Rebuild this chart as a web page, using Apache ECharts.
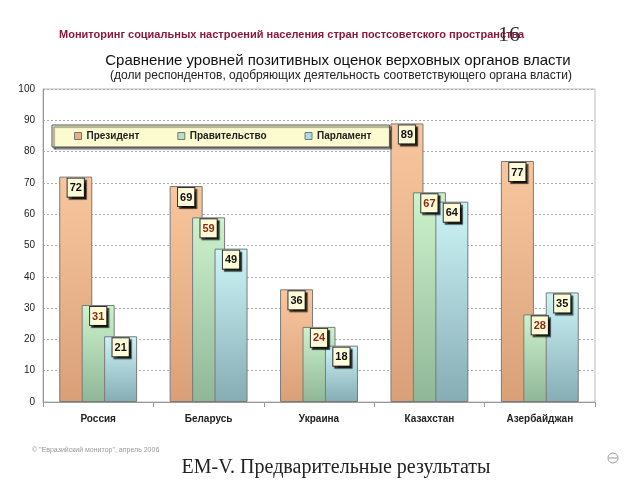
<!DOCTYPE html>
<html><head><meta charset="utf-8">
<script src="https://cdn.jsdelivr.net/npm/echarts@6/dist/echarts.min.js"></script>
<style>html,body{margin:0;padding:0;background:#fff}#c{width:640px;height:480px}</style>
</head><body><div id="c"></div>
<script>
const categories = ['Россия', 'Беларусь', 'Украина', 'Казахстан', 'Азербайджан'];
const seriesNames = ['Президент', 'Правительство', 'Парламент'];
const president = [72, 69, 36, 89, 77];
const government = [31, 59, 24, 67, 28];
const parliament = [21, 49, 18, 64, 35];
const yTicks = [0, 10, 20, 30, 40, 50, 60, 70, 80, 90, 100];

const grad = (a, b) => new echarts.graphic.LinearGradient(0, 0, 0, 1, [{offset: 0, color: a}, {offset: 1, color: b}]);
const fills = [grad('#f8c79e', '#d9a078'), grad('#cdf3cd', '#8fb697'), grad('#cdf5f7', '#86acb4')];
const iconColors = ['#e8b08a', '#b8e0c0', '#a8dce8'];
const labelColors = ['#111', '#8b2a10', '#111'];
const values = [president, government, parliament];

const chart = echarts.init(document.getElementById('c'), null, {renderer: 'canvas'});
chart.setOption({
  animation: false,
  title: [
    {text: 'Мониторинг социальных настроений населения стран постсоветского пространства', left: 54, top: 24,
     textStyle: {fontFamily: 'Liberation Sans', fontSize: 11, fontWeight: 'bold', color: '#8b1a3a'}},
    {text: '16', left: 493, top: 19, textStyle: {fontFamily: 'Liberation Serif', fontSize: 22, fontWeight: 'normal', color: '#333'}},
    {text: 'Сравнение уровней позитивных оценок верховных органов власти', left: 333, textAlign: 'center', top: 48,
     textStyle: {fontFamily: 'Liberation Sans', fontSize: 15, fontWeight: 'normal', color: '#111'}},
    {text: '(доли респондентов, одобряющих деятельность соответствующего органа власти)', left: 336, textAlign: 'center', top: 65,
     textStyle: {fontFamily: 'Liberation Sans', fontSize: 12, fontWeight: 'normal', color: '#222'}},
    {text: '© "Евразийский монитор", апрель 2006', left: 27, top: 442,
     textStyle: {fontFamily: 'Liberation Sans', fontSize: 7, fontWeight: 'normal', color: '#999'}},
    {text: 'EM-V. Предварительные результаты', left: 331, textAlign: 'center', top: 453,
     textStyle: {fontFamily: 'Liberation Serif', fontSize: 20, fontWeight: 'normal', color: '#222'}}
  ],
  legend: {
    data: seriesNames.map((n, i) => ({name: n, icon: 'rect', itemStyle: {color: iconColors[i], borderColor: '#777', borderWidth: 1}})),
    left: 52, top: 125, padding: [6, 18, 6, 22], itemGap: 38, itemWidth: 7, itemHeight: 7,
    backgroundColor: '#fbfbcf', borderColor: '#555', borderWidth: 1,
    shadowColor: 'rgba(0,0,0,0.6)', shadowBlur: 1, shadowOffsetX: 2, shadowOffsetY: 2,
    textStyle: {fontFamily: 'Liberation Sans', fontSize: 10, fontWeight: 'bold', color: '#222'}
  },
  grid: {left: 43, right: 45, top: 89, bottom: 78, show: true, borderColor: '#bbb', borderWidth: 1},
  xAxis: {
    type: 'category', data: categories,
    axisLine: {lineStyle: {color: '#999'}},
    axisTick: {show: true, length: 5, lineStyle: {color: '#999'}},
    axisLabel: {margin: 12, fontFamily: 'Liberation Sans', fontSize: 10, fontWeight: 'bold', color: '#222'}
  },
  yAxis: {
    type: 'value', min: yTicks[0], max: yTicks[yTicks.length - 1], interval: 10,
    axisLine: {show: true, lineStyle: {color: '#999'}},
    axisTick: {show: false},
    axisLabel: {margin: 8, fontFamily: 'Liberation Sans', fontSize: 10, color: '#222'},
    splitLine: {lineStyle: {color: '#aaa', type: [2, 2]}}
  },
  series: seriesNames.map((n, i) => ({
    name: n, type: 'bar', data: values[i], barWidth: 33, barGap: '-32%',
    itemStyle: {color: fills[i], borderColor: '#7a7a7a', borderWidth: 1},
    label: {
      show: true, position: 'insideTop', distance: 2,
      fontFamily: 'Liberation Sans', fontSize: 11, fontWeight: 'bold', color: labelColors[i],
      backgroundColor: '#fdfbd8', borderColor: '#333', borderWidth: 1, padding: [4, 2, 3, 2],
      shadowColor: 'rgba(0,0,0,0.7)', shadowBlur: 1, shadowOffsetX: 2, shadowOffsetY: 2
    }
  })),
  graphic: [
    {type: 'circle', shape: {cx: 613, cy: 458, r: 5}, style: {fill: 'none', stroke: '#999', lineWidth: 1}},
    {type: 'line', shape: {x1: 609, y1: 458, x2: 617, y2: 458}, style: {stroke: '#999', lineWidth: 1}}
  ]
});
</script></body></html>
